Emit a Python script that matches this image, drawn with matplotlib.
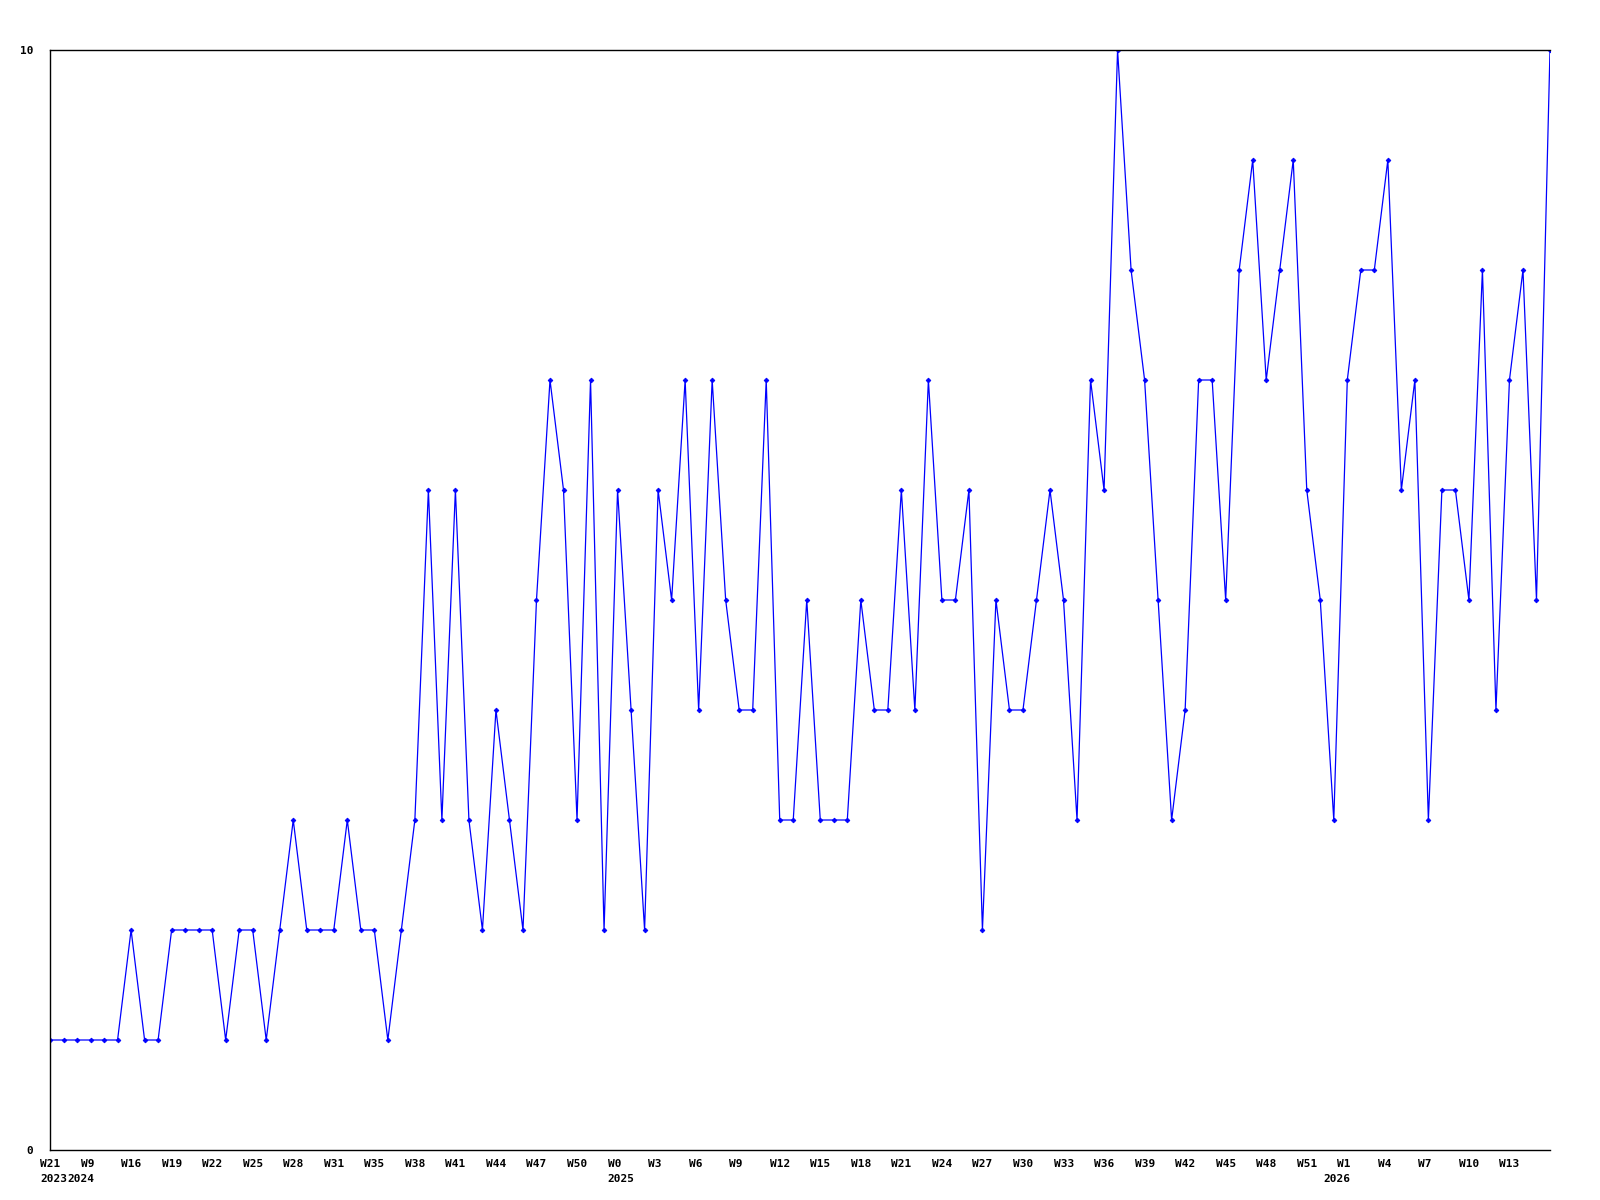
import matplotlib
matplotlib.use("Agg")
import matplotlib.pyplot as plt

# weekly values, one per point (evenly spaced)
values = [1, 1, 1, 1, 1, 1, 2, 1, 1, 2, 2, 2, 2, 1, 2, 2, 1, 2, 3, 2,
          2, 2, 3, 2, 2, 1, 2, 3, 6, 3, 6, 3, 2, 4, 3, 2, 5, 7, 6, 3,
          7, 2, 6, 4, 2, 6, 5, 7, 4, 7, 5, 4, 4, 7, 3, 3, 5, 3, 3, 3,
          5, 4, 4, 6, 4, 7, 5, 5, 6, 2, 5, 4, 4, 5, 6, 5, 3, 7, 6, 10,
          8, 7, 5, 3, 4, 7, 7, 5, 8, 9, 7, 8, 9, 6, 5, 3, 7, 8, 8, 9,
          6, 7, 3, 6, 6, 5, 8, 4, 7, 8, 5, 10]

# labelled points (every third point) and their week labels
tick_idx = list(range(0, 109, 3))
tick_labels = ["W21", "W9", "W16", "W19", "W22", "W25", "W28", "W31", "W35",
               "W38", "W41", "W44", "W47", "W50", "W0", "W3", "W6", "W9",
               "W12", "W15", "W18", "W21", "W24", "W27", "W30", "W33", "W36",
               "W39", "W42", "W45", "W48", "W51", "W1", "W4", "W7", "W10", "W13"]

# first point of each year
year_idx = [0, 2, 42, 95]
year_labels = ["2023", "2024", "2025", "2026"]

font = dict(family="DejaVu Sans Mono", fontweight="bold", fontsize=8)

fig = plt.figure(figsize=(16, 12), dpi=100)
ax = fig.add_axes([50 / 1600, 50 / 1200, 1500 / 1600, 1100 / 1200])

x = list(range(len(values)))
ax.plot(x, values, color="#0000ff", linewidth=0.9, marker="D", markersize=2.4,
        markeredgewidth=0.6)

ax.set_xlim(0, len(values) - 1)
ax.set_ylim(0, 10)

ax.spines["right"].set_visible(False)
for s in ["left", "top", "bottom"]:
    ax.spines[s].set_linewidth(1.0)
    ax.spines[s].set_color("black")

ax.set_yticks([0, 10])
ax.set_yticklabels(["0", "10"], **font)
ax.tick_params(axis="y", length=0, pad=12)

ax.set_xticks([])
for i, lab in zip(tick_idx, tick_labels):
    ax.annotate(lab, xy=(i, 0), xycoords="data", xytext=(-10, -9),
                textcoords="offset pixels", ha="left", va="top",
                annotation_clip=False, **font)
for i, lab in zip(year_idx, year_labels):
    ax.annotate(lab, xy=(i, 0), xycoords="data", xytext=(-10, -24),
                textcoords="offset pixels", ha="left", va="top",
                annotation_clip=False, **font)

fig.savefig("out.png", dpi=100)
